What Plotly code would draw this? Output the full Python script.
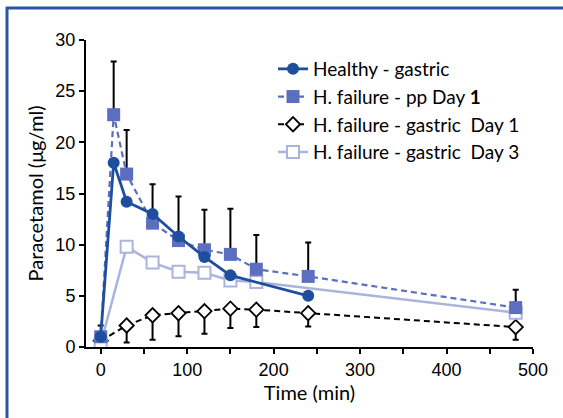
import plotly.graph_objects as go

# ---- data ----
time_healthy = [0, 15, 30, 60, 90, 120, 150, 240]
healthy = [1.0, 18.0, 14.2, 13.0, 10.8, 8.8, 7.0, 5.0]

time_pp = [0, 15, 30, 60, 90, 120, 150, 180, 240, 480]
pp_day1 = [1.0, 22.7, 16.9, 12.1, 10.4, 9.5, 9.05, 7.6, 6.9, 3.85]
pp_day1_err_up = [1.1, 5.2, 4.3, 3.8, 4.3, 3.9, 4.45, 3.35, 3.3, 1.75]

time_g1 = [0, 30, 60, 90, 120, 150, 180, 240, 480]
gastric_day1 = [0.6, 2.1, 3.1, 3.3, 3.5, 3.75, 3.65, 3.3, 1.95]
gastric_day1_err_down = [0, 1.65, 2.4, 2.25, 2.2, 1.9, 1.7, 1.3, 1.25]

time_g3 = [0, 30, 60, 90, 120, 150, 180, 480]
gastric_day3 = [0.3, 9.8, 8.25, 7.35, 7.25, 6.5, 6.35, 3.35]

x_ticks = [0, 100, 200, 300, 400, 500]
y_ticks = [0, 5, 10, 15, 20, 25, 30]

W, H = 563, 418
ML, MR, MT, MB = 86, 30, 40, 71
PW, PH = W - ML - MR, H - MT - MB

C_HEALTHY = "#1f4e9e"
C_PP = "#5b6ebf"
C_D3 = "#aab4dc"
TXT = "Lato"
NUM = "Liberation Sans"

fig = go.Figure()

fig.add_trace(go.Scatter(
    x=time_g1, y=gastric_day1, name="H. failure - gastric  Day 1", legendrank=3,
    mode="lines+markers",
    line=dict(color="black", width=2, dash="6px,4px"),
    marker=dict(symbol="diamond", size=11, color="white", line=dict(color="black", width=1.8)),
    error_y=dict(type="data", symmetric=False, array=[0]*len(time_g1),
                 arrayminus=gastric_day1_err_down, color="black", thickness=2, width=3),
))

fig.add_trace(go.Scatter(
    x=time_g3, y=gastric_day3, name="H. failure - gastric  Day 3", legendrank=4,
    mode="lines+markers",
    line=dict(color=C_D3, width=2.5),
    marker=dict(symbol="square", size=12, color="white", line=dict(color=C_D3, width=2)),
))

fig.add_trace(go.Scatter(
    x=time_pp, y=pp_day1, name="H. failure - pp Day <b>1</b>", legendrank=2,
    mode="lines+markers",
    line=dict(color=C_PP, width=2.2, dash="6px,4px"),
    marker=dict(symbol="square", size=13, color=C_PP),
    error_y=dict(type="data", symmetric=False, array=pp_day1_err_up,
                 arrayminus=[0]*len(time_pp), color="black", thickness=2, width=3),
))

fig.add_trace(go.Scatter(
    x=time_healthy, y=healthy, name="Healthy - gastric", legendrank=1,
    mode="lines+markers",
    line=dict(color=C_HEALTHY, width=2.8),
    marker=dict(symbol="circle", size=12, color=C_HEALTHY),
))

def px_to_paper_x(px):
    return (px - ML) / PW

def px_to_paper_y(py):
    return (H - MB - py) / PH

# frame lines (top and left) of the panel
fig.add_shape(type="line", xref="paper", yref="paper",
              x0=px_to_paper_x(6), x1=px_to_paper_x(570),
              y0=px_to_paper_y(8), y1=px_to_paper_y(8),
              line=dict(color="#2b56a6", width=3), layer="above")
fig.add_shape(type="line", xref="paper", yref="paper",
              x0=px_to_paper_x(7), x1=px_to_paper_x(7),
              y0=px_to_paper_y(7), y1=px_to_paper_y(430),
              line=dict(color="#2b56a6", width=3), layer="above")

fig.update_layout(
    width=W, height=H,
    margin=dict(l=ML, r=MR, t=MT, b=MB),
    paper_bgcolor="white", plot_bgcolor="white",
    font=dict(family=TXT, size=20, color="black"),
    showlegend=True,
    legend=dict(
        x=px_to_paper_x(273), y=px_to_paper_y(50), xanchor="left", yanchor="top",
        bgcolor="rgba(0,0,0,0)", font=dict(family=TXT, size=19, color="black"),
        itemwidth=30, tracegroupgap=0,
    ),
    xaxis=dict(
        range=[-17, 500], tickvals=x_ticks, showgrid=False, zeroline=False,
        showline=True, linecolor="black", linewidth=2,
        ticks="outside", ticklen=5, tickwidth=2, tickcolor="black",
        tickfont=dict(family=NUM, size=18),
        minor=dict(dtick=50, tick0=0, ticks="outside", ticklen=5, tickwidth=2, tickcolor="black"),
        title=dict(text="Time (min)", font=dict(family=TXT, size=20), standoff=0),
    ),
    yaxis=dict(
        range=[0, 30], tickvals=y_ticks, showgrid=False, zeroline=False,
        showline=True, linecolor="black", linewidth=2,
        ticks="outside", ticklen=5, tickwidth=2, tickcolor="black",
        tickfont=dict(family=NUM, size=18),
        title=dict(text="Paracetamol (μg/ml)", font=dict(family=TXT, size=20), standoff=6),
    ),
)

fig.write_html("out.html", config={"displayModeBar": False},
               post_script="document.body.style.margin='0';")
